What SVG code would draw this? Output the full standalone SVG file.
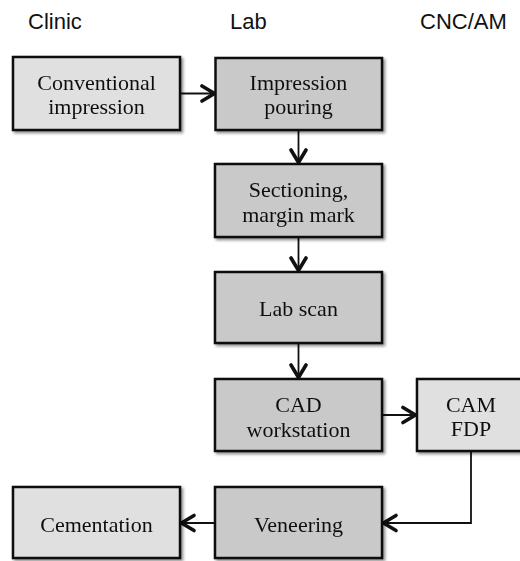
<svg xmlns="http://www.w3.org/2000/svg" width="520" height="561" viewBox="0 0 520 561">
<style>
.title{font-family:"Liberation Sans",Arial,sans-serif;font-size:22px;fill:#111}
.lbl{font-family:"Liberation Serif","Times New Roman",serif;font-size:22px;fill:#111;text-anchor:middle}
.box{stroke:#111;stroke-width:2.5}
.light{fill:#e0e0e0}
.dark{fill:#c9c9c9}
.conn path{fill:none;stroke:#111;stroke-width:1.8}
</style>
<defs>
<filter id="sh" x="-10%" y="-10%" width="130%" height="130%">
<feGaussianBlur in="SourceAlpha" stdDeviation="1.5"/>
<feOffset dx="1.5" dy="2" result="b"/>
<feComponentTransfer><feFuncA type="linear" slope="0.45"/></feComponentTransfer>
<feMerge><feMergeNode/><feMergeNode in="SourceGraphic"/></feMerge>
</filter>
<marker id="ah" markerUnits="userSpaceOnUse" markerWidth="20" markerHeight="22" refX="15" refY="10" orient="auto">
<path d="M2.5,2.5 L15,10 L2.5,17.5" fill="none" stroke="#111" stroke-width="3.6" stroke-linejoin="miter" stroke-linecap="round"/>
</marker>
</defs>
<rect width="520" height="561" fill="#fff"/>
<g id="titles">
<text class="title" x="28" y="29">Clinic</text>
<text class="title" x="230" y="29">Lab</text>
<text class="title" x="420" y="29">CNC/AM</text>
</g>
<g class="conn" id="connectors">
<path d="M180,93.5 L214.5,93.5" marker-end="url(#ah)"/>
<path d="M298.5,130 L298.5,162.5" marker-end="url(#ah)"/>
<path d="M298.5,237 L298.5,270.5" marker-end="url(#ah)"/>
<path d="M298.5,343 L298.5,377.5" marker-end="url(#ah)"/>
<path d="M382,415 L415.5,415" marker-end="url(#ah)"/>
<path d="M471,451 L471,523 L383.5,523" marker-end="url(#ah)"/>
<path d="M215,523 L181.5,523" marker-end="url(#ah)"/>
</g>
<g id="conventional" filter="url(#sh)">
<rect class="box light" x="13" y="57" width="167" height="73"/>
<text class="lbl" x="96.5" y="90">Conventional</text>
<text class="lbl" x="96.5" y="113.5">impression</text>
</g>
<g id="pouring" filter="url(#sh)">
<rect class="box dark" x="215.5" y="58" width="166.5" height="72"/>
<text class="lbl" x="298.5" y="90">Impression</text>
<text class="lbl" x="298.5" y="113.5">pouring</text>
</g>
<g id="sectioning" filter="url(#sh)">
<rect class="box dark" x="215" y="164" width="167" height="73"/>
<text class="lbl" x="298.5" y="197">Sectioning,</text>
<text class="lbl" x="298.5" y="221.5">margin mark</text>
</g>
<g id="labscan" filter="url(#sh)">
<rect class="box dark" x="215" y="272" width="167" height="71"/>
<text class="lbl" x="298.5" y="316">Lab scan</text>
</g>
<g id="cad" filter="url(#sh)">
<rect class="box dark" x="215" y="379" width="167" height="72"/>
<text class="lbl" x="298.5" y="411.5">CAD</text>
<text class="lbl" x="298.5" y="436.5">workstation</text>
</g>
<g id="cam" filter="url(#sh)">
<rect class="box light" x="417" y="379" width="108" height="72"/>
<text class="lbl" x="471" y="411.5">CAM</text>
<text class="lbl" x="471" y="435.5">FDP</text>
</g>
<g id="cementation" filter="url(#sh)">
<rect class="box light" x="13" y="487" width="167" height="71"/>
<text class="lbl" x="96.5" y="531.5">Cementation</text>
</g>
<g id="veneering" filter="url(#sh)">
<rect class="box dark" x="215" y="487" width="167" height="71"/>
<text class="lbl" x="298.5" y="531.5">Veneering</text>
</g>
</svg>
